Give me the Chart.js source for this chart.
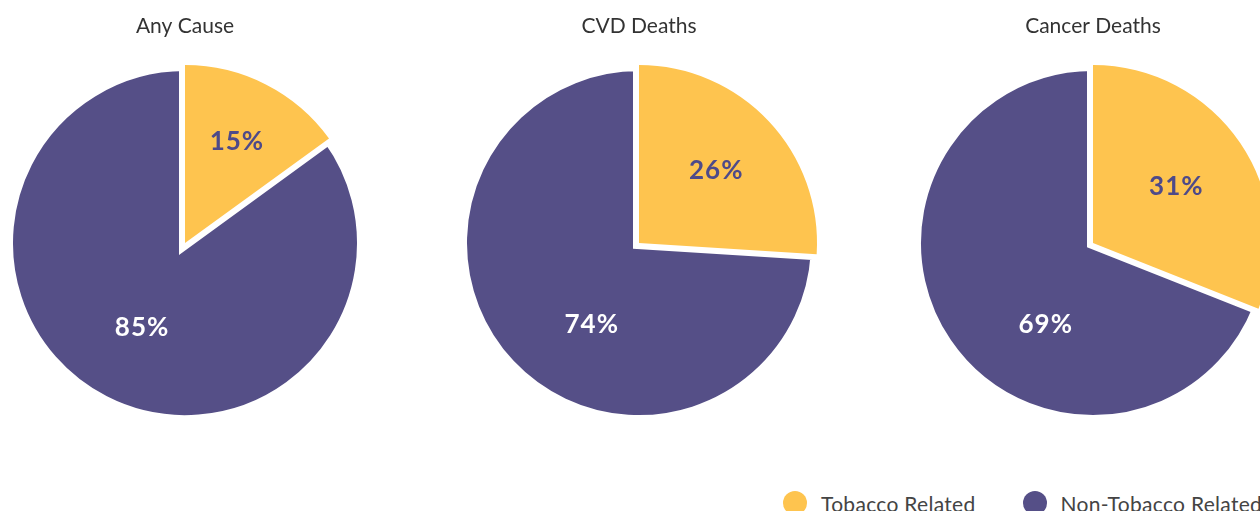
<!DOCTYPE html>
<html>
<head>
<meta charset="utf-8">
<script src="https://cdn.jsdelivr.net/npm/chart.js@4/dist/chart.umd.min.js"></script>
<style>
  html, body { margin: 0; padding: 0; background: #fff; overflow: hidden; width: 1260px; height: 511px; }
  .pie { position: absolute; top: 0; width: 370px; height: 437px; }
  #legend { position: absolute; left: 783px; top: 491px; display: flex; gap: 47px; font-family: Lato, sans-serif; font-size: 21px; letter-spacing: 0.3px; color: #444; white-space: nowrap; }
  .item { display: flex; align-items: center; height: 24px; }
  .dot { width: 24px; height: 24px; border-radius: 50%; margin-right: 14px; flex: none; }
</style>
</head>
<body>
<div class="pie" style="left:0px"><canvas id="c0"></canvas></div>
<div class="pie" style="left:454px"><canvas id="c1"></canvas></div>
<div class="pie" style="left:908px"><canvas id="c2"></canvas></div>
<div id="legend"></div>
<script>
// Share of deaths attributable to tobacco, by cause
const titles = ['Any Cause', 'CVD Deaths', 'Cancer Deaths'];
const categories = ['Tobacco Related', 'Non-Tobacco Related'];
const tobaccoRelated = [15, 26, 31];
const nonTobaccoRelated = [85, 74, 69];

const YELLOW = '#FEC44F';
const PURPLE = '#554F87';

// Percentage labels drawn inside each slice
const sliceLabels = {
  id: 'sliceLabels',
  afterDatasetsDraw(chart) {
    const ctx = chart.ctx;
    const meta = chart.getDatasetMeta(0);
    const ds = chart.data.datasets[0];
    ctx.save();
    ctx.font = 'bold 26px Lato, sans-serif';
    ctx.letterSpacing = '1px';
    ctx.textAlign = 'center';
    ctx.textBaseline = 'middle';
    meta.data.forEach((arc, i) => {
      const p = arc.getProps(['x', 'y', 'startAngle', 'endAngle', 'outerRadius']);
      let mid = (p.startAngle + p.endAngle) / 2;
      const sweep = p.endAngle - p.startAngle;
      let d;
      if (sweep < Math.PI) {
        // small slice: label at the sector centroid
        d = 4 * p.outerRadius * Math.sin(sweep / 2) / (3 * sweep);
        ctx.fillStyle = '#4E4A89';
      } else {
        // large slice: label kept in the lower-left area
        while (mid > Math.PI) mid -= Math.PI * 2;
        mid = Math.min(mid, Math.PI * 2 / 3);
        d = (p.outerRadius - (arc.options.borderWidth || 0) / 2) * 0.55;
        ctx.fillStyle = '#FFFFFF';
      }
      ctx.fillText(ds.data[i] + '%', p.x + Math.cos(mid) * d, p.y + Math.sin(mid) * d);
    });
    ctx.restore();
  }
};

titles.forEach((t, k) => {
  new Chart(document.getElementById('c' + k), {
    type: 'pie',
    data: {
      labels: [categories[1], categories[0]],
      datasets: [{
        // non-tobacco slice is drawn first with a wide white outline,
        // the tobacco slice is drawn on top of it at full radius
        data: [nonTobaccoRelated[k], tobaccoRelated[k]],
        backgroundColor: [PURPLE, YELLOW],
        borderColor: '#FFFFFF',
        borderWidth: [12, 0],
        borderJoinStyle: 'miter',
        radius: 178
      }]
    },
    options: {
      responsive: true,
      maintainAspectRatio: false,
      animation: false,
      rotation: tobaccoRelated[k] * 3.6,
      layout: { padding: 0 },
      plugins: {
        legend: { display: false },
        tooltip: { enabled: false },
        title: {
          display: true,
          text: t,
          color: '#333333',
          font: { family: 'Lato, sans-serif', size: 21, weight: 'normal' },
          padding: { top: 14, bottom: 10 }
        }
      }
    },
    plugins: [sliceLabels]
  });
});

// Shared legend
const legend = document.getElementById('legend');
[[categories[0], YELLOW], [categories[1], PURPLE]].forEach(([c, col]) => {
  const item = document.createElement('div');
  item.className = 'item';
  const dot = document.createElement('span');
  dot.className = 'dot';
  dot.style.background = col;
  const txt = document.createElement('span');
  txt.textContent = c;
  item.appendChild(dot);
  item.appendChild(txt);
  legend.appendChild(item);
});
</script>
</body>
</html>
